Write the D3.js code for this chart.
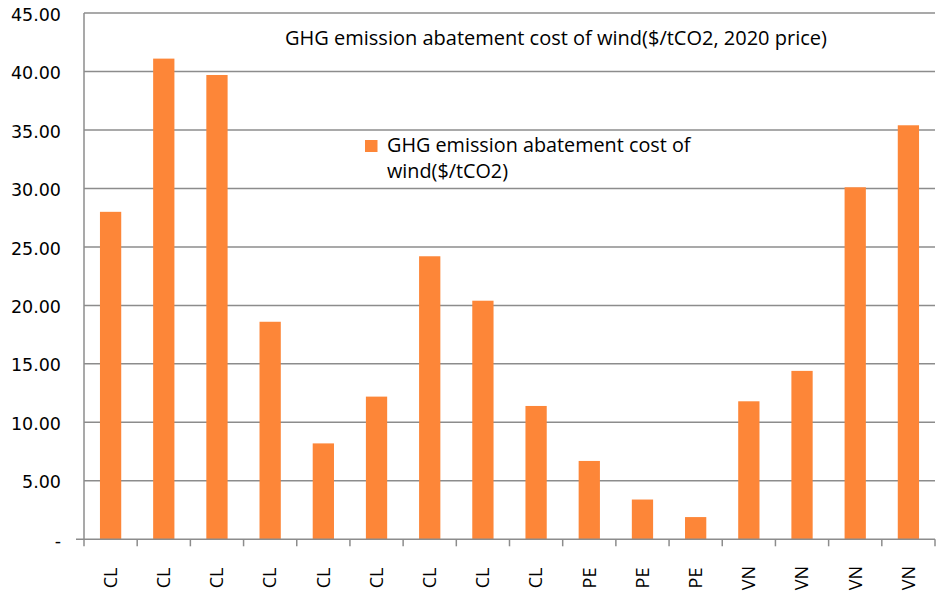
<!DOCTYPE html>
<html>
<head>
<meta charset="utf-8">
<script src="https://cdn.jsdelivr.net/npm/d3@7"></script>
<style>
  html, body { margin: 0; padding: 0; background: #fff; }
  svg { display: block; }
</style>
</head>
<body>
<svg id="chart" width="942" height="599"></svg>
<script>
const categories = ["CL","CL","CL","CL","CL","CL","CL","CL","CL","PE","PE","PE","VN","VN","VN","VN"];
const values = [28.0, 41.1, 39.7, 18.6, 8.2, 12.2, 24.2, 20.4, 11.4, 6.7, 3.4, 1.9, 11.8, 14.4, 30.1, 35.4];
const yTicks = [0, 5, 10, 15, 20, 25, 30, 35, 40, 45];
const yTickLabels = ["-", "5.00", "10.00", "15.00", "20.00", "25.00", "30.00", "35.00", "40.00", "45.00"];
const titleText = "GHG emission abatement cost of wind($/tCO2, 2020 price)";
const legendLines = ["GHG emission abatement cost of", "wind($/tCO2)"];

(function () {
const barColor = "#FD8638";
const gridColor = "#8c8c8c";
const font = "'Open Sans', sans-serif";

const svg = d3.select("#chart");
const plotLeft = 84, plotRight = 935, plotTop = 13, plotBottom = 539.3;

const x = d3.scaleBand()
  .domain(d3.range(categories.length))
  .range([plotLeft, plotRight])
  .paddingInner(0.6)
  .paddingOuter(0.3);

const y = d3.scaleLinear().domain([0, 45]).range([plotBottom, plotTop]);

// gridlines
svg.append("g").selectAll("line")
  .data(yTicks.filter(d => d > 0))
  .join("line")
  .attr("x1", plotLeft).attr("x2", plotRight)
  .attr("y1", d => y(d)).attr("y2", d => y(d))
  .attr("stroke", gridColor).attr("stroke-width", 1.5);

// y axis line
svg.append("line")
  .attr("x1", plotLeft).attr("x2", plotLeft)
  .attr("y1", y(45)).attr("y2", y(0))
  .attr("stroke", gridColor).attr("stroke-width", 1.5);

// y tick labels
svg.append("g").selectAll("text")
  .data(yTicks)
  .join("text")
  .attr("x", 61)
  .attr("y", d => y(d) + 1.5)
  .attr("dy", "0.35em")
  .attr("text-anchor", "end")
  .attr("font-family", "'DejaVu Sans', sans-serif")
  .attr("font-size", 17.5)
  .attr("fill", "#000")
  .text((d, i) => yTickLabels[i]);

// bars
svg.append("g").selectAll("rect")
  .data(values)
  .join("rect")
  .attr("x", (d, i) => x(i))
  .attr("width", x.bandwidth())
  .attr("y", d => y(d))
  .attr("height", d => y(0) - y(d))
  .attr("fill", barColor);

// x axis line
svg.append("line")
  .attr("x1", 76).attr("x2", plotRight)
  .attr("y1", y(0)).attr("y2", y(0))
  .attr("stroke", gridColor).attr("stroke-width", 1.5);

// x tick marks at category boundaries
const step = x.step();
const boundaries = d3.range(categories.length + 1).map(i => plotLeft + i * step);
svg.append("g").selectAll("line")
  .data(boundaries)
  .join("line")
  .attr("x1", d => d).attr("x2", d => d)
  .attr("y1", y(0)).attr("y2", y(0) + 7)
  .attr("stroke", gridColor).attr("stroke-width", 1.5);

// x labels (rotated)
svg.append("g").selectAll("text")
  .data(categories)
  .join("text")
  .attr("transform", (d, i) => `translate(${x(i) + x.bandwidth() / 2},578) rotate(-90)`)
  .attr("text-anchor", "middle")
  .attr("dy", "0.35em")
  .attr("font-family", font)
  .attr("font-size", 18)
  .attr("fill", "#000")
  .text(d => d);

// title
svg.append("text")
  .attr("x", 285).attr("y", 45)
  .attr("font-family", font)
  .attr("font-size", 20)
  .attr("fill", "#000")
  .text(titleText);

// legend
svg.append("rect")
  .attr("x", 365).attr("y", 140)
  .attr("width", 12.5).attr("height", 12)
  .attr("fill", barColor);
svg.append("g").selectAll("text")
  .data(legendLines)
  .join("text")
  .attr("x", 387)
  .attr("y", (d, i) => 152 + i * 26)
  .attr("font-family", font)
  .attr("font-size", 19.8)
  .attr("fill", "#000")
  .text(d => d);
})();
</script>
</body>
</html>
